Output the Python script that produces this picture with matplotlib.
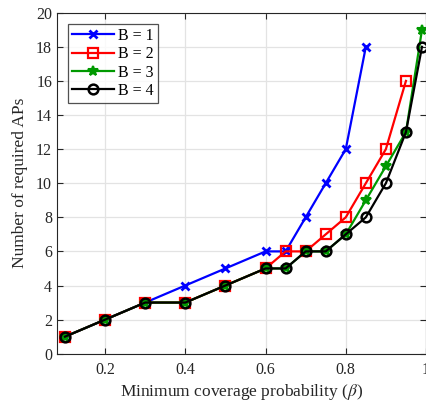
import matplotlib.pyplot as plt

plt.rcParams['font.family'] = ['Liberation Serif', 'DejaVu Serif']
plt.rcParams['mathtext.fontset'] = 'stix'

x1 = [0.1, 0.2, 0.3, 0.4, 0.5, 0.6, 0.65, 0.7, 0.75, 0.8, 0.85]
b1 = [1, 2, 3, 4, 5, 6, 6, 8, 10, 12, 18]
x2 = [0.1, 0.2, 0.3, 0.4, 0.5, 0.6, 0.65, 0.7, 0.75, 0.8, 0.85, 0.9, 0.95]
b2 = [1, 2, 3, 3, 4, 5, 6, 6, 7, 8, 10, 12, 16]
x3 = [0.1, 0.2, 0.3, 0.4, 0.5, 0.6, 0.65, 0.7, 0.75, 0.8, 0.85, 0.9, 0.95, 0.99]
b3 = [1, 2, 3, 3, 4, 5, 5, 6, 6, 7, 9, 11, 13, 19]
b4 = [1, 2, 3, 3, 4, 5, 5, 6, 6, 7, 8, 10, 13, 18]

fig = plt.figure(figsize=(4.27, 4.01), dpi=100)
ax = fig.add_axes([57/427, 1 - 353.7/401, (426 - 57)/427, (353.7 - 12.7)/401])

ax.plot(x1, b1, color='#0000ff', marker='x', ms=5.5, mew=2, lw=1.6, label='B = 1')
ax.plot(x2, b2, color='#ff0000', marker='s', ms=6.5, mfc='none', mew=1.6, lw=1.6, label='B = 2')
ax.plot(x3, b3, color='#009900', marker='*', ms=7.5, mew=1.5, lw=1.6, label='B = 3')
ax.plot(x3, b4, color='k', marker='o', ms=7, mfc='none', mew=1.8, lw=1.6, label='B = 4')

ax.set_xlim(0.08, 1)
ax.set_ylim(0, 20)
ax.set_xticks([0.2, 0.4, 0.6, 0.8, 1])
ax.set_xticklabels(['0.2', '0.4', '0.6', '0.8', '1'])
ax.set_yticks(range(0, 21, 2))
ax.grid(True, color='#e3e3e3', lw=0.9)
ax.set_axisbelow(True)
ax.tick_params(direction='in', labelsize=11.5, colors='#262626', length=4, top=True, right=True)
ax.tick_params(axis='x', pad=6)
for s in ax.spines.values():
    s.set_color('#262626')
ax.set_xlabel(r'Minimum coverage probability ($\beta$)', fontsize=12.5, color='#262626', labelpad=3)
ax.set_ylabel('Number of required APs', fontsize=12.5, color='#262626', labelpad=6)

leg = ax.legend(loc='upper left', fontsize=11.5, frameon=True, fancybox=False,
                edgecolor='#262626', borderaxespad=0.7, handlelength=2.6,
                handletextpad=0.3, labelspacing=0.15, borderpad=0.25)
leg.get_frame().set_linewidth(0.9)

fig.savefig('out.png', dpi=100)
